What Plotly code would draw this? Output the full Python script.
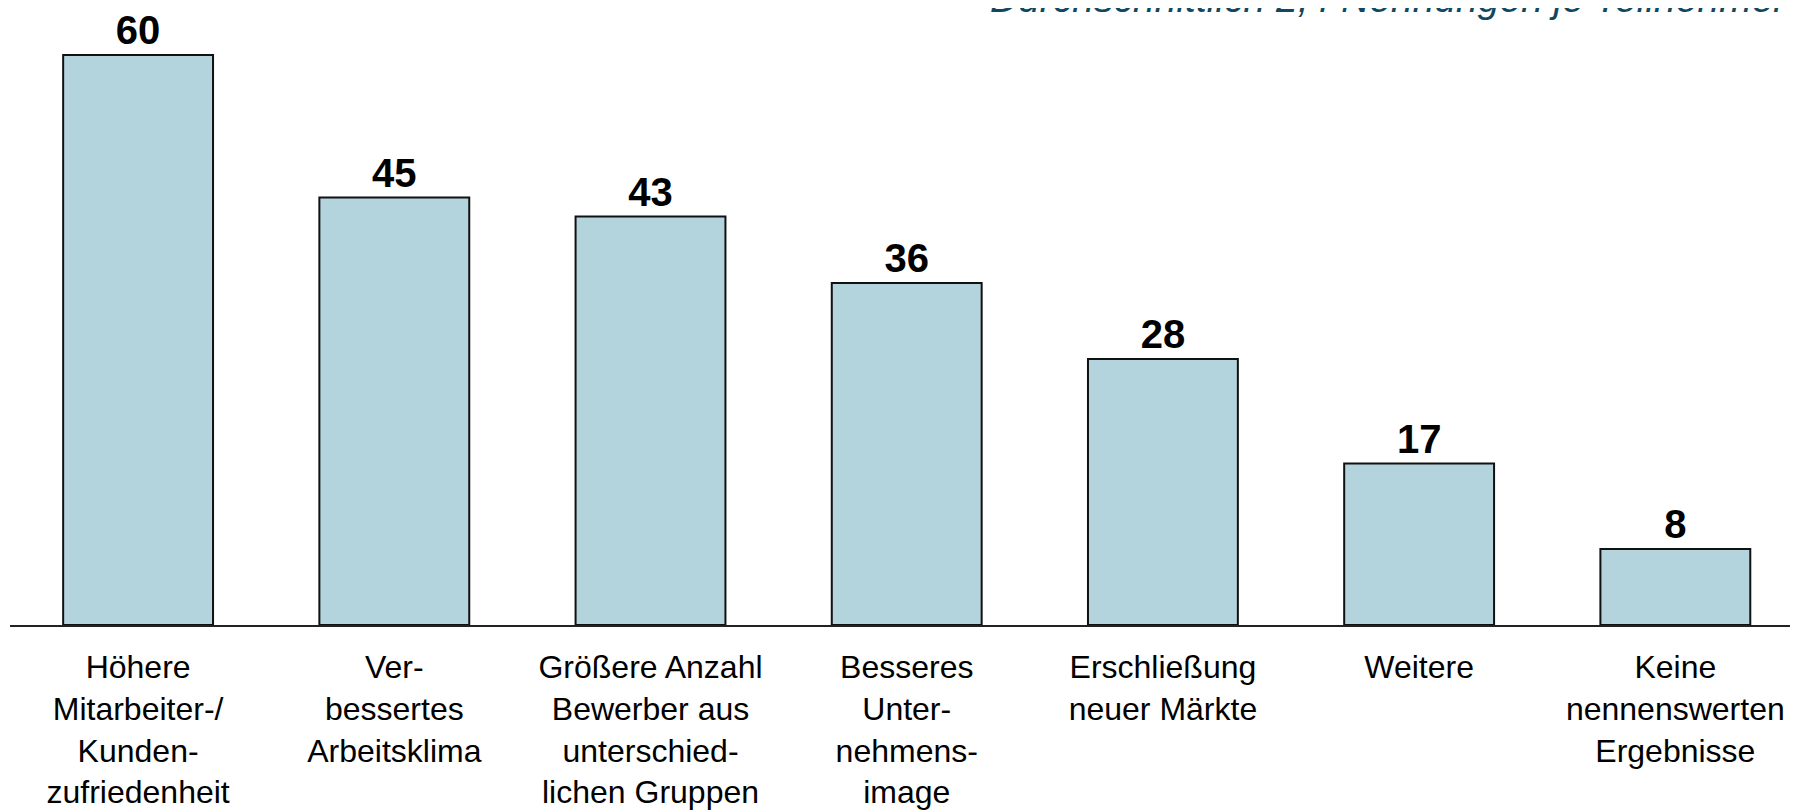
import plotly.graph_objects as go

# Ergebnisse von Diversity-Maßnahmen (Anzahl Nennungen)
categories = [
    "Höhere<br>Mitarbeiter-/<br>Kunden-<br>zufriedenheit",
    "Ver-<br>bessertes<br>Arbeitsklima",
    "Größere Anzahl<br>Bewerber aus<br>unterschied-<br>lichen Gruppen",
    "Besseres<br>Unter-<br>nehmens-<br>image",
    "Erschließung<br>neuer Märkte",
    "Weitere",
    "Keine<br>nennenswerten<br>Ergebnisse",
]
values = [60, 45, 43, 36, 28, 17, 8]
note = "Durchschnittlich 2,4 Nennungen je Teilnehmer"

FONT = "Liberation Sans, Arial, Helvetica, sans-serif"

# page body adds ~8px offset, so the figure is shifted up/left to compensate
fig = go.Figure(
    go.Bar(
        x=categories,
        y=values,
        width=0.585,
        marker=dict(color="#b3d3dd", line=dict(color="#111111", width=2)),
        text=values,
        texttemplate="<b>%{text}</b>",
        textposition="outside",
        textfont=dict(family=FONT, size=40, color="#000000"),
        cliponaxis=False,
        hoverinfo="x+y",
        showlegend=False,
    )
)

# note at the top right, partly cut off by the page edge as in the original
fig.add_annotation(
    text=f"<i>{note}</i>",
    xref="paper", yref="paper",
    x=(980 - 2) / 1796, y=1 + 10 / 617,
    xanchor="left", yanchor="middle",
    showarrow=False,
    font=dict(family=FONT, size=39, color="#0f4860"),
)

fig.update_layout(
    width=1798,
    height=812,
    margin=dict(l=2, r=0, t=0, b=195),
    paper_bgcolor="white",
    plot_bgcolor="white",
    xaxis=dict(
        type="category",
        range=[-0.5, 6.51],
        showline=True,
        linecolor="#222222",
        linewidth=2,
        ticks="",
        showgrid=False,
        ticklabelstandoff=13,
        tickfont=dict(family=FONT, size=32, color="#000000"),
    ),
    yaxis=dict(
        range=[0, 64.95],
        visible=False,
        showgrid=False,
        zeroline=False,
    ),
)

fig.write_html("out.html")
